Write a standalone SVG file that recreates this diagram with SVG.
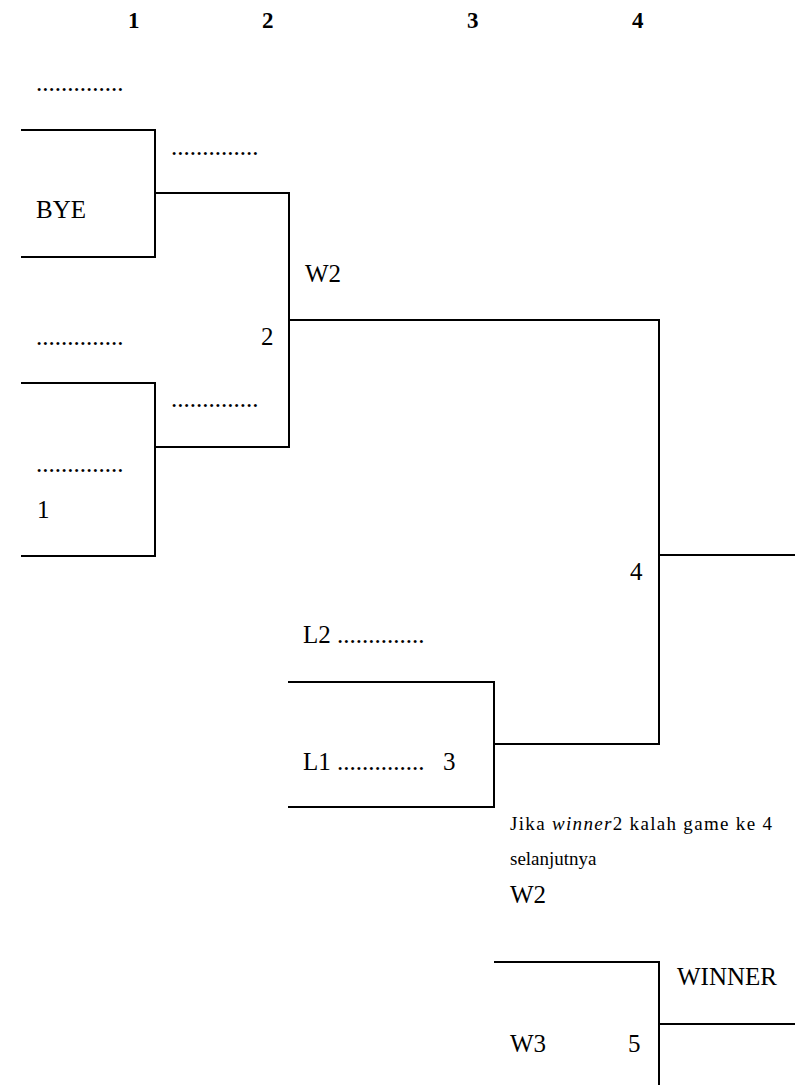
<svg xmlns="http://www.w3.org/2000/svg" width="802" height="1085" viewBox="0 0 802 1085">
<style>
.t{font-family:"Liberation Serif","Times New Roman","DejaVu Serif",serif;font-size:25px;fill:#000}
.h{font-family:"Liberation Serif","Times New Roman","DejaVu Serif",serif;font-size:23px;font-weight:bold;fill:#000}
.s{font-family:"Liberation Serif","Times New Roman","DejaVu Serif",serif;font-size:19px;fill:#000}
.ln{fill:none;stroke:#000;stroke-width:2}
</style>
<rect width="802" height="1085" fill="#fff"/>
<g id="headers">
<text class="h" x="128" y="28">1</text>
<text class="h" x="262" y="28">2</text>
<text class="h" x="467" y="28">3</text>
<text class="h" x="632" y="28">4</text>
</g>
<g id="connectors">
<polyline class="ln" points="21,130 155,130 155,257 21,257"/>
<polyline class="ln" points="21,383 155,383 155,556 21,556"/>
<polyline class="ln" points="155,193 289,193 289,447 155,447"/>
<polyline class="ln" points="289,320 659,320 659,744 494,744"/>
<line class="ln" x1="659" y1="555" x2="795" y2="555"/>
<polyline class="ln" points="288,682 494,682 494,807 288,807"/>
<polyline class="ln" points="494,962 659,962 659,1085"/>
<line class="ln" x1="659" y1="1024" x2="795" y2="1024"/>
</g>
<g id="match1">
<text class="t" x="36" y="91">..............</text>
<text class="t" x="36" y="218">BYE</text>
<text class="t" x="171" y="155">..............</text>
</g>
<g id="match2">
<text class="t" x="36" y="345">..............</text>
<text class="t" x="36" y="472">..............</text>
<text class="t" x="37" y="518">1</text>
<text class="t" x="171" y="407">..............</text>
<text class="t" x="261" y="345">2</text>
<text class="t" x="305" y="282">W2</text>
</g>
<g id="match4">
<text class="t" x="630" y="580">4</text>
</g>
<g id="match3">
<text class="t" x="303" y="643">L2 ..............</text>
<text class="t" x="303" y="770">L1 ..............</text>
<text class="t" x="443" y="770">3</text>
</g>
<g id="note">
<text class="s" x="510" y="830" textLength="262" lengthAdjust="spacing">Jika <tspan font-style="italic">winner</tspan>2 kalah game ke 4</text>
<text class="s" x="510" y="865">selanjutnya</text>
</g>
<g id="match5">
<text class="t" x="510" y="903">W2</text>
<text class="t" x="677" y="985">WINNER</text>
<text class="t" x="510" y="1052">W3</text>
<text class="t" x="628" y="1052">5</text>
</g>
</svg>
